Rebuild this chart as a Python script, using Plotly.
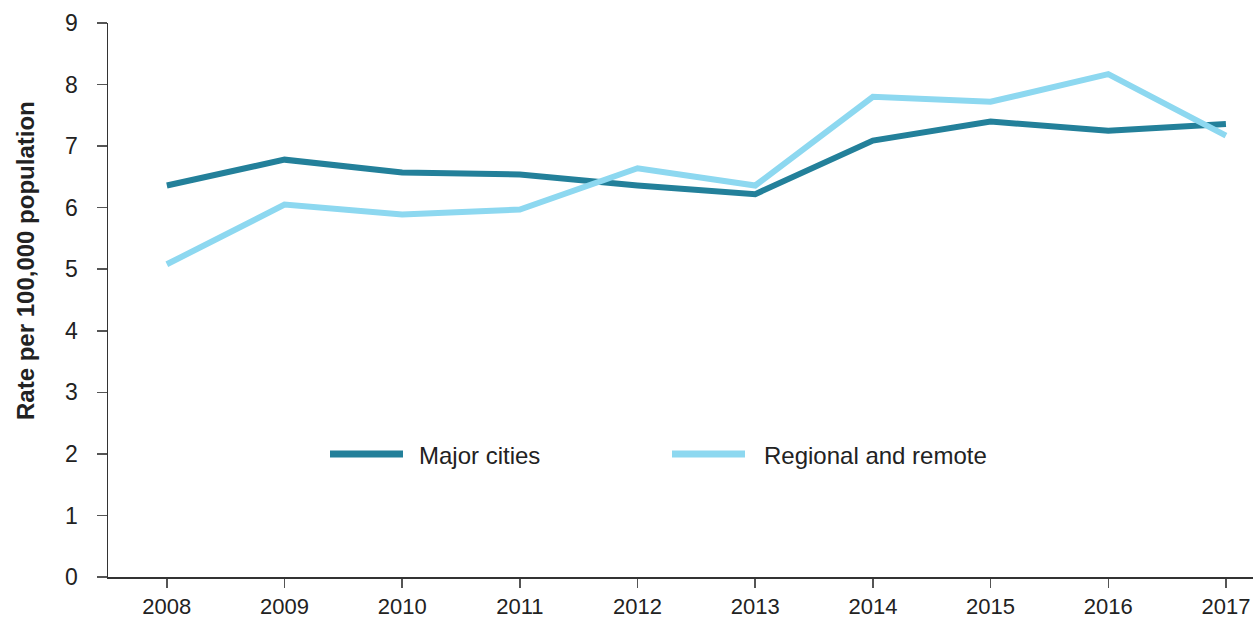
import plotly.graph_objects as go

years = [2008, 2009, 2010, 2011, 2012, 2013, 2014, 2015, 2016, 2017]
major_cities = [6.36, 6.78, 6.57, 6.54, 6.36, 6.22, 7.09, 7.40, 7.25, 7.36]
regional_remote = [5.08, 6.05, 5.89, 5.97, 6.64, 6.36, 7.80, 7.72, 8.17, 7.17]
y_ticks = [0, 1, 2, 3, 4, 5, 6, 7, 8, 9]

c_major = "#23809A"
c_reg = "#8DD8F0"
font = "Liberation Sans, Arial, sans-serif"

fig = go.Figure()
fig.add_trace(go.Scatter(x=years, y=major_cities, mode="lines", name="Major cities",
                         line=dict(color=c_major, width=6), showlegend=False))
fig.add_trace(go.Scatter(x=years, y=regional_remote, mode="lines", name="Regional and remote",
                         line=dict(color=c_reg, width=6), showlegend=False))

W, H = 1253, 621
l, r, t, b = 108, 0, 23, 44
pw, ph = W - l - r, H - t - b

def px(xp):
    return (xp - l) / pw

def py(yp):
    return (H - b - yp) / ph

# legend drawn manually
for x0, x1, xt, col, txt in [(330, 403, 417, c_major, "Major cities"),
                             (672, 745, 762, c_reg, "Regional and remote")]:
    fig.add_shape(type="line", xref="paper", yref="paper", x0=px(x0), x1=px(x1),
                  y0=py(454), y1=py(454), line=dict(color=col, width=7))
    fig.add_annotation(xref="paper", yref="paper", x=px(xt), y=py(455), text=txt,
                       showarrow=False, xanchor="left", yanchor="middle",
                       font=dict(family=font, size=24, color="#222222"))

fig.add_annotation(xref="paper", yref="paper", x=px(25), y=py(261),
                   text="<b>Rate per 100,000 population</b>", textangle=-90,
                   showarrow=False, xanchor="center", yanchor="middle",
                   font=dict(family=font, size=24, color="#222222"))

fig.update_layout(
    width=W, height=H,
    margin=dict(l=l, r=r, t=t, b=b, pad=0, autoexpand=False),
    plot_bgcolor="white", paper_bgcolor="white",
    font=dict(family=font, size=23, color="#222222"),
    xaxis=dict(range=[2007.5, 2017.23], tickmode="array", tickvals=years,
               ticktext=[str(y) for y in years], showgrid=False, zeroline=False,
               showline=True, linecolor="#333333", linewidth=1.5, automargin=False,
               ticks="outside", ticklen=9, tickcolor="#555555", tickwidth=1.5,
               ticklabelstandoff=0, tickfont=dict(size=22)),
    yaxis=dict(range=[0, 9], tickvals=y_ticks, showgrid=False, zeroline=False,
               showline=True, linecolor="#333333", linewidth=1.5, automargin=False,
               ticks="outside", ticklen=10, tickcolor="#555555", tickwidth=1.5,
               ticklabelstandoff=14),
)

fig.write_html("out.html", config={"displayModeBar": False, "staticPlot": True},
               post_script="document.body.style.margin='0';document.body.style.overflow='hidden';")
